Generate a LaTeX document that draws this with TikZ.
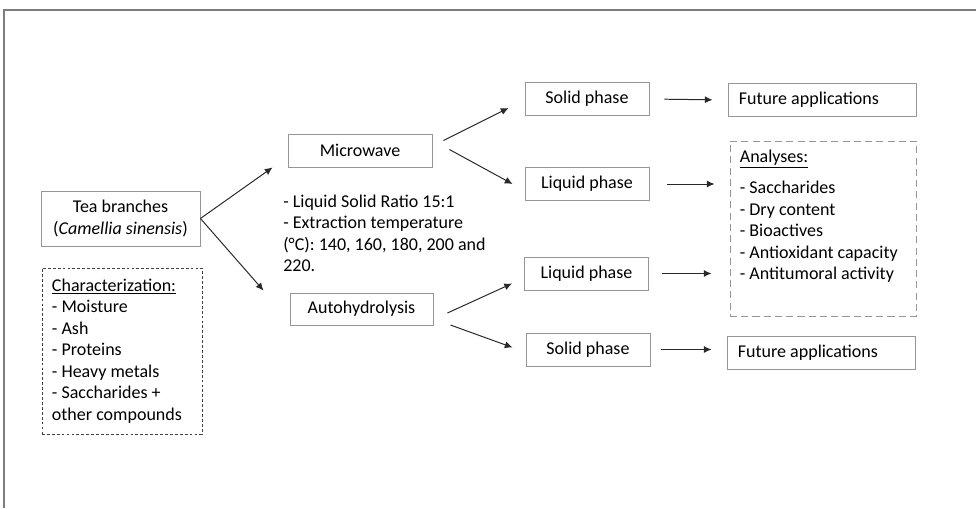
\documentclass[tikz,border=0pt]{standalone}
\usepackage{fontspec}
\setmainfont{Carlito}
\usetikzlibrary{arrows.meta,calc}
\definecolor{boxgray}{RGB}{150,150,150}
\definecolor{framegray}{RGB}{125,125,125}
\definecolor{arrowgray}{RGB}{40,40,40}

\begin{document}
\begin{tikzpicture}[x=0.025cm, y=-0.025cm, font=\fontsize{12.8}{15.3}\selectfont,
    procbox/.style={draw=boxgray, line width=0.6pt, inner sep=0pt},
    phasebox/.style={procbox, minimum width=3.1cm, minimum height=0.825cm},
    plainspace/.style={execute at begin node={\spaceskip=0pt\xspaceskip=0pt\relax}},
    outbox/.style={procbox, align=left, plainspace, text width=4.15cm, inner xsep=0.275cm, minimum height=0.825cm},
    flow/.style={-{Latex[length=5.5pt,width=5pt]}, arrowgray, line width=0.7pt}]
        \useasboundingbox (0,0) rectangle (976,508);
        \draw[framegray, line width=0.8pt] (4,508) -- (4,10) -- (976,10);
        % feedstock
        \node[procbox, align=center, minimum width=3.975cm, minimum height=1.375cm] (tea) at (120.5,218.5) {Tea branches\\(\textit{Camellia sinensis})};
        \node[draw=black!75, line width=0.6pt, dash pattern=on 2pt off 1.5pt, align=left, plainspace, text width=3.5cm, inner xsep=0.25cm, minimum height=4.15cm] (charac) at (122,351) {\underline{Characterization:}\\- Moisture\\- Ash\\- Proteins\\- Heavy metals\\- Saccharides +\\other compounds};
        % treatments
        \node[procbox, minimum width=3.6cm, minimum height=0.825cm] (mw) at (360,150.5) {Microwave};
        \node[procbox, minimum width=3.575cm, minimum height=0.8cm] (ah) at (361.5,309) {Autohydrolysis};
        \node[anchor=west, align=left, inner sep=0pt] (cond) at (283,233.5) {- Liquid Solid Ratio 15:1\\- Extraction temperature\\(°C): 140, 160, 180, 200 and\\220.};
        % phases
        \node[phasebox] (sp1) at (587,99) {Solid phase};
        \node[phasebox] (lp1) at (587,184) {Liquid phase};
        \node[phasebox] (lp2) at (586.5,273.5) {Liquid phase};
        \node[phasebox] (sp2) at (588,349.5) {Solid phase};
        % outputs
        \node[outbox] (fa1) at (822,100) {Future applications};
        \node[outbox] (fa2) at (821,353) {Future applications};
        \node[draw=boxgray, line width=0.6pt, dash pattern=on 5pt off 3pt, minimum width=4.65cm, minimum height=4.375cm] (ana) at (823,228.5) {};
        \node[anchor=north west, align=left, inner sep=0pt] (anatext) at ($(ana.north west)+(10,9)$) {\underline{Analyses:}\\[7pt]- Saccharides\\- Dry content\\- Bioactives\\- Antioxidant capacity\\- Antitumoral activity};
        % connectors
        \draw[flow] (tea.east) -- ($(mw.south west)+(-15,0)$);
        \draw[flow] (tea.east) -- ($(ah.north west)+(-26,-2)$);
        \draw[flow] ($(mw.east)+(11,-10)$) -- ($(sp1.west)+(-16,9)$);
        \draw[flow] ($(mw.east)+(17,-1)$) -- ($(lp1.west)+(-12,0)$);
        \draw[flow] ($(ah.east)+(14,4)$) -- ($(lp2.west)+(-12,10)$);
        \draw[flow] ($(ah.east)+(17,16)$) -- ($(sp2.west)+(-13,-2)$);
        \draw[flow, shorten <=0.375cm, shorten >=0.375cm] (sp1.east) -- (fa1.west);
        \draw[flow, shorten <=0.45cm, shorten >=0.375cm] (lp1.east) -- (lp1.east -| ana.west);
        \draw[flow, shorten <=0.325cm, shorten >=0.45cm] (lp2.east) -- (lp2.east -| ana.west);
        \draw[flow, shorten <=0.275cm, shorten >=0.375cm] (sp2.east) -- (sp2.east -| fa2.west);
      \end{tikzpicture}
\end{document}
